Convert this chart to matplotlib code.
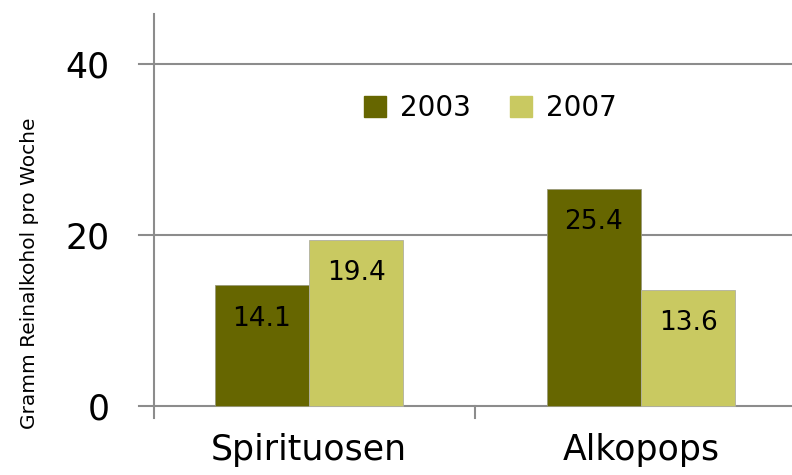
import numpy as np
import matplotlib
matplotlib.use('Agg')
import matplotlib.pyplot as plt
from matplotlib.patches import Patch

CATEGORIES = ['Spirituosen', 'Alkopops']
YEARS = ['2003', '2007']
VALUES_2003 = [14.1, 25.4]
VALUES_2007 = [19.4, 13.6]
Y_TICKS = [0, 20, 40]
Y_LABEL = 'Gramm Reinalkohol pro Woche'

DARK = '#666600'
LIGHT = '#C9C961'
GRID = '#8c8c8c'


def main():
    plt.rcParams['font.family'] = ['DejaVu Sans']
    fig = plt.figure(figsize=(7.92, 4.75), dpi=100)
    ax = fig.add_axes([154 / 792, 57 / 475, 642 / 792, 404 / 475])

    x = np.arange(len(CATEGORIES))
    w = 0.284
    b1 = ax.bar(x - w / 2, VALUES_2003, w, color=DARK, edgecolor='#9a9a7a',
                linewidth=0.6, zorder=3)
    b2 = ax.bar(x + w / 2, VALUES_2007, w, color=LIGHT, edgecolor='#b0b0a0',
                linewidth=0.6, zorder=3)

    # value labels sit inside the bars, just below the top
    for bars, vals in ((b1, VALUES_2003), (b2, VALUES_2007)):
        for r, v in zip(bars, vals):
            ax.annotate(f'{v:.1f}', (r.get_x() + r.get_width() / 2, v),
                        xytext=(0, -24), textcoords='offset points',
                        ha='center', va='center', fontsize=19, zorder=4)

    ax.set_xlim(-0.467, 1.467)
    ax.set_ylim(-1.4, 45.8)

    x0, x1 = ax.get_xlim()
    for y in Y_TICKS:
        ax.plot([x0 - 0.045, x1], [y, y], color=GRID, lw=1.5, zorder=1,
                clip_on=False)
    ax.plot([0.5, 0.5], [0, -1.4], color=GRID, lw=1.5, clip_on=False)

    for s in ('top', 'right', 'bottom'):
        ax.spines[s].set_visible(False)
    ax.spines['left'].set_color(GRID)
    ax.spines['left'].set_linewidth(1.5)

    ax.set_yticks(Y_TICKS)
    ax.set_yticklabels([str(t) for t in Y_TICKS], fontsize=25)
    ax.tick_params(axis='y', length=0, pad=32)
    ax.set_xticks(x)
    ax.set_xticklabels(CATEGORIES, fontsize=25)
    ax.tick_params(axis='x', length=0, pad=11)

    fig.text(30 / 792, 1 - 273 / 475, Y_LABEL, rotation=90, fontsize=14.5,
             ha='center', va='center')

    handles = [Patch(color=DARK), Patch(color=LIGHT)]
    ax.legend(handles, YEARS, loc='center',
              bbox_to_anchor=((490 - 154) / 642, 1 - (108 - 14) / 404),
              ncol=2, frameon=False, fontsize=20, handlelength=0.8,
              handleheight=0.8, handletextpad=0.5, columnspacing=1.4)

    fig.savefig('out.png', dpi=100)


if __name__ == '__main__':
    main()
